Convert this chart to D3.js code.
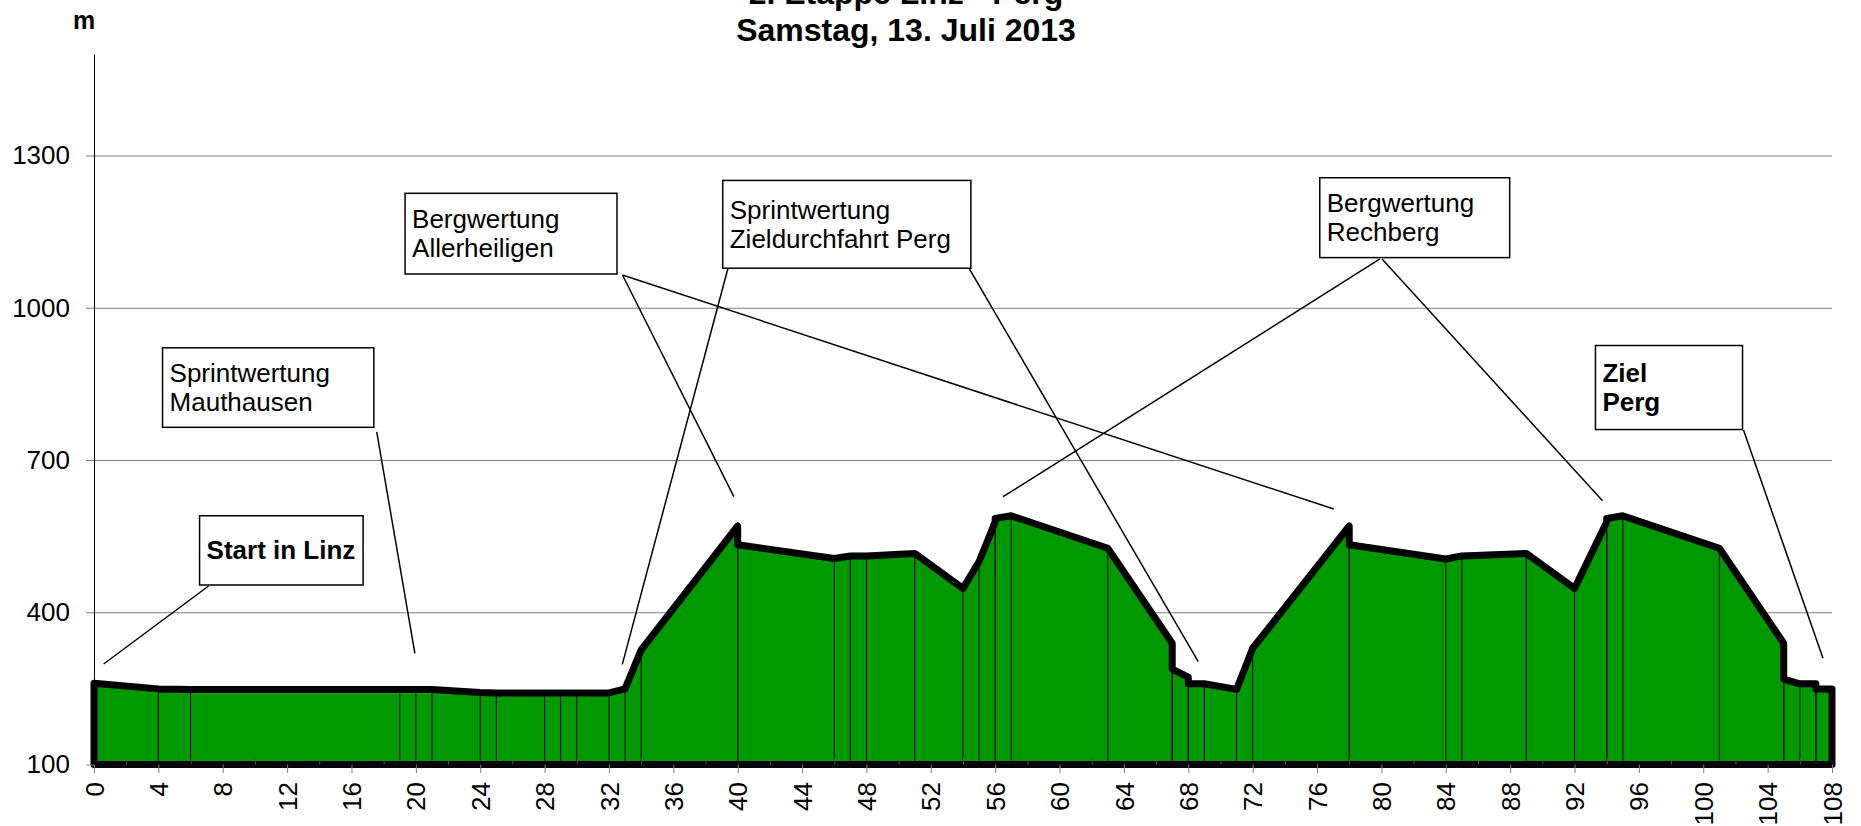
<!DOCTYPE html>
<html>
<head>
<meta charset="utf-8">
<script src="https://cdn.jsdelivr.net/npm/d3@7"></script>
<style>
  body { margin: 0; background: #fff; }
  svg { display: block; }
</style>
</head>
<body>
<svg id="chart" width="1861" height="826"></svg>
<script>
// ---------------- data ----------------
const titleLines = ["2. Etappe Linz - Perg", "Samstag, 13. Juli 2013"];
const yAxisTitle = "m";

// distance (km) and elevation (m) of the profile points
const km = [0, 4, 6, 19, 20, 21, 24, 25, 28, 29, 30, 32, 33, 34,
            40, 40, 46, 47, 48, 51, 54, 55, 56, 56, 57, 63, 67, 67, 68, 68, 69, 71, 72,
            78, 78, 84, 85, 89, 92, 94, 94, 95, 101, 105, 105, 106, 107, 107, 108];
const elevation = [260, 249, 248, 248, 248, 248, 242, 241, 241, 241, 241, 241, 249, 326,
                   570, 533, 506, 511, 511, 516, 447, 500, 578, 585, 590, 526, 339, 288, 272, 259, 259, 248, 329,
                   570, 533, 505, 511, 516, 447, 578, 585, 590, 526, 339, 268, 259, 259, 249, 249];

const xTickValues = [0, 4, 8, 12, 16, 20, 24, 28, 32, 36, 40, 44, 48, 52, 56, 60, 64, 68, 72,
                     76, 80, 84, 88, 92, 96, 100, 104, 108];
const xMinorTickValues = [2, 6, 10, 14, 18, 22, 26, 30, 34, 38, 42, 46, 50, 54, 58, 62, 66, 70,
                          74, 78, 82, 86, 90, 94, 98, 102, 106];
const yTickValues = [100, 400, 700, 1000, 1300];
const yDomain = [100, 1500];
const xDomain = [0, 108];

// callouts: text lines, bold flag
const annotationTexts = [
  ["Start in Linz"],
  ["Sprintwertung", "Mauthausen"],
  ["Bergwertung", "Allerheiligen"],
  ["Sprintwertung", "Zieldurchfahrt Perg"],
  ["Bergwertung", "Rechberg"],
  ["Ziel", "Perg"]
];
const annotationBold = [true, false, false, false, false, true];
// callout boxes in data units [km left, m top, km right, m bottom]
const annotationBoxes = [
  [6.56, 590.2, 16.72, 453.7],
  [4.26, 921.1, 17.39, 764.4],
  [19.33, 1225.5, 32.50, 1066.5],
  [39.07, 1250.9, 54.49, 1077.9],
  [76.17, 1256.2, 87.97, 1098.8],
  [93.30, 925.6, 102.44, 760.0]
];
// leader lines in data units [km1, m1, km2, m2]
const annotationLeaders = [
  [[7.12, 451.7, 0.60, 298.0]],
  [[17.57, 755.2, 19.94, 319.1]],
  [[32.84, 1064.5, 39.76, 627.7], [32.84, 1064.5, 77.04, 603.4]],
  [[39.40, 1078.3, 32.83, 297.4], [54.37, 1078.3, 68.62, 302.6]],
  [[79.91, 1096.1, 56.49, 627.7], [80.04, 1096.1, 93.74, 619.6]],
  [[102.50, 759.1, 107.44, 309.3]]
];

// ---------------- drawing ----------------
const FONT = '"Liberation Sans", Arial, Helvetica, sans-serif';
const svg = d3.select("#chart").attr("font-family", FONT);

const plotLeft = 94, plotRight = 1832, plotTop = 54, plotBottom = 764.5;
const x = d3.scaleLinear().domain(xDomain).range([plotLeft, plotRight]);
const y = d3.scaleLinear().domain(yDomain).range([plotBottom, plotTop]);

const pts = km.map((k, i) => [k, elevation[i]]);

// gridlines
svg.append("g")
  .attr("transform", `translate(${plotLeft},0)`)
  .call(d3.axisLeft(y).tickValues(yTickValues.slice(1)).tickSize(-(plotRight - plotLeft)).tickFormat(""))
  .call(g => g.select(".domain").remove())
  .call(g => g.selectAll(".tick line").attr("stroke", "#808080").attr("stroke-width", 1));

// area fill
const area = d3.area().x(d => x(d[0])).y0(y(yDomain[0])).y1(d => y(d[1]));
svg.append("path").datum(pts).attr("d", area).attr("fill", "#009900");

// drop lines
svg.append("g").selectAll("line").data(pts).join("line")
  .attr("x1", d => x(d[0])).attr("x2", d => x(d[0]))
  .attr("y1", d => y(d[1])).attr("y2", y(yDomain[0]))
  .attr("stroke", "#000").attr("stroke-width", 1);

// thick outline
const outline = [[km[0], yDomain[0]], ...pts, [km[km.length - 1], yDomain[0]]];
const lineGen = d3.line().x(d => x(d[0])).y(d => y(d[1]));
svg.append("path").attr("d", lineGen(outline) + "Z")
  .attr("fill", "none").attr("stroke", "#000").attr("stroke-width", 7)
  .attr("stroke-linejoin", "round");

// y axis
svg.append("g")
  .attr("transform", `translate(${plotLeft},0)`)
  .call(d3.axisLeft(y).tickValues(yTickValues).tickFormat(d3.format("d"))
        .tickSize(8).tickSizeOuter(0).tickPadding(16))
  .attr("font-size", 26).attr("font-family", FONT)
  .call(g => g.select(".domain").attr("stroke", "#000").attr("stroke-width", 1))
  .call(g => g.selectAll(".tick line").attr("stroke", "#808080"))
  .call(g => g.selectAll(".tick text").attr("fill", "#000"));

// x axis (major ticks + labels)
svg.append("g")
  .attr("transform", `translate(0,${plotBottom})`)
  .call(d3.axisBottom(x).tickValues(xTickValues).tickFormat(d3.format("d"))
        .tickSize(8.5).tickSizeOuter(0).tickPadding(0))
  .attr("font-size", 26).attr("font-family", FONT)
  .call(g => g.select(".domain").remove())
  .call(g => g.selectAll(".tick line").attr("stroke", "#808080"))
  .call(g => g.selectAll(".tick text")
      .attr("fill", "#000")
      .attr("transform", "rotate(-90)")
      .attr("x", -17.5).attr("y", 0).attr("dy", "0.35em")
      .attr("text-anchor", "end"));

// x axis minor ticks (inside)
svg.append("g")
  .attr("transform", `translate(0,${plotBottom})`)
  .call(d3.axisBottom(x).tickValues(xMinorTickValues).tickSize(-7).tickSizeOuter(0).tickFormat(""))
  .call(g => g.select(".domain").remove())
  .call(g => g.selectAll(".tick line").attr("stroke", "#555"));

// leader lines
annotationLeaders.forEach(list => {
  list.forEach(l => {
    svg.append("line")
      .attr("x1", x(l[0])).attr("y1", y(l[1]))
      .attr("x2", x(l[2])).attr("y2", y(l[3]))
      .attr("stroke", "#000").attr("stroke-width", 1.5);
  });
});

// callout boxes
const lineH = 29, fontSize = 26;
annotationBoxes.forEach((b, i) => {
  const bx = x(b[0]), by = y(b[1]), bw = x(b[2]) - x(b[0]), bh = y(b[3]) - y(b[1]);
  svg.append("rect").attr("x", bx).attr("y", by).attr("width", bw).attr("height", bh)
    .attr("fill", "#fff").attr("stroke", "#000").attr("stroke-width", 1.5);
  const lines = annotationTexts[i];
  const cy = by + bh / 2;
  lines.forEach((t, j) => {
    svg.append("text")
      .attr("x", bx + 7)
      .attr("y", cy + (j - (lines.length - 1) / 2) * lineH + 0.35 * fontSize)
      .attr("font-size", fontSize)
      .attr("font-weight", annotationBold[i] ? "bold" : "normal")
      .attr("fill", "#000")
      .text(t);
  });
});

// title
titleLines.forEach((t, i) => {
  svg.append("text")
    .attr("x", 906).attr("y", 4 + i * 37)
    .attr("text-anchor", "middle")
    .attr("font-size", 32).attr("font-weight", "bold")
    .attr("fill", "#000")
    .text(t);
});

// y axis title
svg.append("text")
  .attr("x", 73).attr("y", 29)
  .attr("font-size", 25).attr("font-weight", "bold")
  .attr("fill", "#000")
  .text(yAxisTitle);
</script>
</body>
</html>
